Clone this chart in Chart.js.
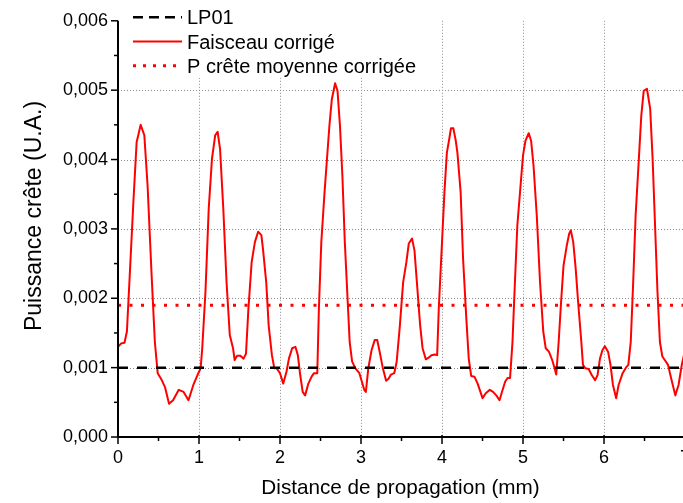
<!DOCTYPE html>
<html>
<head>
<meta charset="utf-8">
<script src="https://cdn.jsdelivr.net/npm/chart.js@4.4.1/dist/chart.umd.min.js"></script>
<style>
html,body{margin:0;padding:0;background:#fff;overflow:hidden;}
canvas{display:block;}
</style>
</head>
<body>
<canvas id="c" width="683" height="503"></canvas>
<script>
// ---- Data ----
const distanceMm = [
  0.00,0.04,0.08,0.11,0.145,0.19,0.23,0.28,0.325,0.365,0.415,0.455,0.49,0.54,0.58,0.63,0.68,0.75,0.81,0.87,0.93,0.98,
  1.02,1.04,1.08,1.12,1.16,1.20,1.23,1.26,1.30,1.34,1.38,1.42,1.44,1.47,1.51,1.55,1.58,1.61,1.65,1.69,1.73,1.77,1.79,1.83,1.86,1.90,1.93,1.96,
  2.00,2.04,2.08,2.11,2.15,2.19,2.22,2.25,2.28,2.31,2.35,2.39,2.42,2.46,2.48,2.51,2.55,2.58,2.61,2.64,2.68,2.71,2.74,2.77,2.80,2.84,2.86,2.89,2.93,2.98,
  3.01,3.04,3.06,3.09,3.13,3.17,3.20,3.23,3.27,3.31,3.34,3.37,3.41,3.44,3.48,3.52,3.56,3.59,3.63,3.66,3.69,3.73,3.76,3.80,3.83,3.87,3.91,3.94,3.96,
  4.00,4.03,4.06,4.09,4.11,4.14,4.17,4.19,4.23,4.26,4.30,4.33,4.36,4.40,4.44,4.50,4.54,4.59,4.63,4.67,4.71,4.74,4.78,4.81,4.84,4.87,4.90,4.93,4.97,
  5.00,5.03,5.07,5.10,5.13,5.17,5.21,5.25,5.28,5.32,5.36,5.39,5.41,5.44,5.47,5.50,5.54,5.57,5.59,5.62,5.65,5.68,5.72,5.74,5.77,5.81,5.85,5.89,5.92,5.95,5.98,
  6.01,6.05,6.08,6.11,6.15,6.18,6.23,6.27,6.30,6.33,6.36,6.39,6.43,6.46,6.49,6.53,6.57,6.60,6.63,6.66,6.69,6.72,6.75,6.79,6.83,6.88,6.92,6.96,7.00
];
const faisceauCorrige = [
  0.00130,0.00135,0.00136,0.00152,0.00233,0.00339,0.00425,0.00450,0.00435,0.00363,0.00233,0.00137,0.00092,0.00082,0.00072,0.00048,0.00053,0.00068,0.00065,0.00053,0.00075,0.00089,
  0.00099,0.00128,0.00210,0.00329,0.00401,0.00435,0.00440,0.00415,0.00329,0.00223,0.00147,0.00128,0.00111,0.00117,0.00117,0.00113,0.00120,0.00185,0.00252,0.00281,0.00296,0.00291,0.00271,0.00223,0.00161,0.00118,0.00099,0.00099,
  0.00092,0.00077,0.00094,0.00113,0.00128,0.00130,0.00118,0.00089,0.00065,0.00060,0.00077,0.00087,0.00092,0.00092,0.00185,0.00281,0.00353,0.00401,0.00449,0.00487,0.00510,0.00499,0.00449,0.00377,0.00281,0.00185,0.00137,0.00109,0.00099,0.00092,
  0.00080,0.00068,0.00065,0.00099,0.00125,0.00140,0.00140,0.00123,0.00099,0.00081,0.00084,0.00090,0.00092,0.00108,0.00161,0.00223,0.00252,0.00279,0.00286,0.00269,0.00223,0.00161,0.00128,0.00112,0.00114,0.00118,0.00119,0.00118,0.00185,
  0.00281,0.00353,0.00410,0.00430,0.00445,0.00445,0.00427,0.00410,0.00353,0.00257,0.00171,0.00113,0.00088,0.00087,0.00077,0.00056,0.00063,0.00068,0.00065,0.00060,0.00053,0.00065,0.00080,0.00085,0.00085,0.00137,0.00223,0.00305,0.00363,
  0.00406,0.00427,0.00438,0.00427,0.00391,0.00319,0.00223,0.00152,0.00128,0.00123,0.00111,0.00099,0.00090,0.00137,0.00195,0.00247,0.00276,0.00293,0.00298,0.00281,0.00243,0.00195,0.00137,0.00104,0.00099,0.00098,0.00089,0.00082,0.00089,0.00113,0.00125,
  0.00131,0.00123,0.00104,0.00075,0.00056,0.00075,0.00092,0.00100,0.00104,0.00137,0.00223,0.00319,0.00401,0.00463,0.00499,0.00502,0.00473,0.00401,0.00305,0.00209,0.00137,0.00116,0.00111,0.00104,0.00084,0.00060,0.00075,0.00104,0.00125
];
const lp01Level = 0.001;
const pCreteMoyenneCorrigee = 0.0019;
const lineSpanMm = [0, 7];
const xTickValues = [0, 1, 2, 3, 4, 5, 6];
const xEdgeTick = 7;
const yTickValues = [0, 0.001, 0.002, 0.003, 0.004, 0.005, 0.006];
const seriesLabels = ['LP01', 'Faisceau corrigé', 'P crête moyenne corrigée'];
const xTitle = 'Distance de propagation (mm)';
const yTitle = 'Puissance crête (U.A.)';

// ---- Build chart ----
Chart.defaults.font.family = '"Liberation Sans", Arial, Helvetica, sans-serif';
Chart.defaults.color = '#000';

const faisceauPoints = distanceMm.map((x, i) => ({x: x, y: faisceauCorrige[i]}));
const lp01Points = lineSpanMm.map(x => ({x: x, y: lp01Level}));
const pPoints = lineSpanMm.map(x => ({x: x, y: pCreteMoyenneCorrigee}));

const STYLE = {
  lp01: {color: '#000000', width: 2.5, dash: [10, 9], legendDash: [10, 6]},
  faisceau: {color: '#ff0000', width: 2},
  pcrete: {color: '#ff0000', width: 3, dash: [3, 8.5], legendDash: [3, 7]}
};

const decorPlugin = {
  id: 'decor',
  beforeDatasetsDraw(chart) {
    const {ctx, chartArea: ca, scales: {x, y}} = chart;
    ctx.save();
    ctx.strokeStyle = '#8c8c8c';
    ctx.lineWidth = 1;
    ctx.setLineDash([1, 2]);
    yTickValues.forEach(v => {
      if (v <= 0 || v >= 0.006) return;
      const py = Math.round(y.getPixelForValue(v)) + 0.5;
      ctx.beginPath(); ctx.moveTo(ca.left, py); ctx.lineTo(ca.right, py); ctx.stroke();
    });
    xTickValues.forEach(v => {
      if (v <= 0) return;
      const px = Math.round(x.getPixelForValue(v)) + 0.5;
      ctx.beginPath(); ctx.moveTo(px, ca.top); ctx.lineTo(px, ca.bottom); ctx.stroke();
    });
    ctx.restore();
  },
  afterDatasetsDraw(chart) {
    const {ctx, chartArea: ca, scales: {x, y}} = chart;
    ctx.save();
    // legend (white box over the grid)
    const lx0 = ca.left + 4, lx1 = ca.left + 15, lx2 = ca.left + 64, tx = ca.left + 69;
    const rowY = [ca.top - 3.5, ca.top + 20.7, ca.top + 45];
    ctx.fillStyle = '#fff';
    ctx.fillRect(lx0, 0, 306, ca.top + 57);
    const legendStyles = [STYLE.lp01, STYLE.faisceau, STYLE.pcrete];
    legendStyles.forEach((s, i) => {
      ctx.strokeStyle = s.color;
      ctx.lineWidth = s.width;
      ctx.setLineDash(s.legendDash || []);
      ctx.beginPath(); ctx.moveTo(lx1, rowY[i]); ctx.lineTo(lx2, rowY[i]); ctx.stroke();
    });
    ctx.setLineDash([]);
    ctx.fillStyle = '#000';
    ctx.font = '20px "Liberation Sans", Arial, sans-serif';
    ctx.textAlign = 'left';
    ctx.textBaseline = 'alphabetic';
    seriesLabels.forEach((t, i) => ctx.fillText(t, tx, rowY[i] + 7));

    // axes
    ctx.strokeStyle = '#000';
    ctx.lineWidth = 2;
    ctx.beginPath();
    ctx.moveTo(ca.left, ca.top); ctx.lineTo(ca.left, ca.bottom); ctx.lineTo(ca.right, ca.bottom);
    ctx.stroke();
    ctx.lineWidth = 1.5;
    // y ticks (major + minor)
    yTickValues.forEach((v, i) => {
      const py = y.getPixelForValue(v);
      ctx.beginPath(); ctx.moveTo(ca.left - 7, py); ctx.lineTo(ca.left, py); ctx.stroke();
      if (i < yTickValues.length - 1) {
        const pm = y.getPixelForValue((v + yTickValues[i + 1]) / 2);
        ctx.beginPath(); ctx.moveTo(ca.left - 4, pm); ctx.lineTo(ca.left, pm); ctx.stroke();
      }
    });
    // x ticks (major + minor)
    const xs = xTickValues.concat([xEdgeTick]);
    xs.forEach((v, i) => {
      const px = x.getPixelForValue(v);
      ctx.beginPath(); ctx.moveTo(px, ca.bottom - 2); ctx.lineTo(px, ca.bottom + 7); ctx.stroke();
      if (i < xs.length - 1) {
        const pm = x.getPixelForValue((v + xs[i + 1]) / 2);
        ctx.beginPath(); ctx.moveTo(pm, ca.bottom); ctx.lineTo(pm, ca.bottom + 4); ctx.stroke();
      }
    });
    // partially visible edge tick label
    ctx.font = '18px "Liberation Sans", Arial, sans-serif';
    ctx.textAlign = 'center';
    ctx.textBaseline = 'middle';
    ctx.fillText(String(xEdgeTick), x.getPixelForValue(xEdgeTick), ca.bottom + 10 + 10.8);

    // y-axis title
    ctx.font = '23px "Liberation Sans", Arial, sans-serif';
    ctx.translate(35, 216);
    ctx.rotate(-Math.PI / 2);
    ctx.textAlign = 'center';
    ctx.textBaseline = 'middle';
    ctx.fillText(yTitle, 0, 0);
    ctx.restore();
  }
};

new Chart(document.getElementById('c'), {
  type: 'scatter',
  data: {
    datasets: [
      {label: seriesLabels[0], data: lp01Points, showLine: true, pointRadius: 0,
       borderColor: STYLE.lp01.color, borderWidth: STYLE.lp01.width, borderDash: STYLE.lp01.dash, order: 0},
      {label: seriesLabels[1], data: faisceauPoints, showLine: true, pointRadius: 0, tension: 0,
       borderColor: STYLE.faisceau.color, borderWidth: STYLE.faisceau.width, borderJoinStyle: 'round', order: 1},
      {label: seriesLabels[2], data: pPoints, showLine: true, pointRadius: 0,
       borderColor: STYLE.pcrete.color, borderWidth: STYLE.pcrete.width, borderDash: STYLE.pcrete.dash, order: 2}
    ]
  },
  options: {
    responsive: false,
    animation: false,
    devicePixelRatio: 1,
    layout: {padding: {top: 20, right: 0, bottom: 0, left: 0}},
    plugins: {legend: {display: false}, tooltip: {enabled: false}},
    scales: {
      x: {
        type: 'linear', position: 'bottom', min: 0, max: 6.975,
        afterBuildTicks: s => { s.ticks = xTickValues.map(v => ({value: v})); },
        afterFit: s => { s.height = 66; },
        grid: {display: false, drawTicks: false},
        border: {display: false},
        ticks: {padding: 10, font: {size: 18}, color: '#000', callback: v => String(v)},
        title: {display: true, text: xTitle, font: {size: 20.7}, color: '#000', padding: {top: 4, bottom: 2}}
      },
      y: {
        type: 'linear', position: 'left', min: 0, max: 0.006,
        afterBuildTicks: s => { s.ticks = yTickValues.map(v => ({value: v})); },
        afterFit: s => { s.width = 118; },
        grid: {display: false, drawTicks: false},
        border: {display: false},
        ticks: {padding: 10, font: {size: 18}, color: '#000', callback: v => v.toFixed(3).replace('.', ',')},
        title: {display: false, text: yTitle}
      }
    }
  },
  plugins: [decorPlugin]
});
</script>
</body>
</html>
